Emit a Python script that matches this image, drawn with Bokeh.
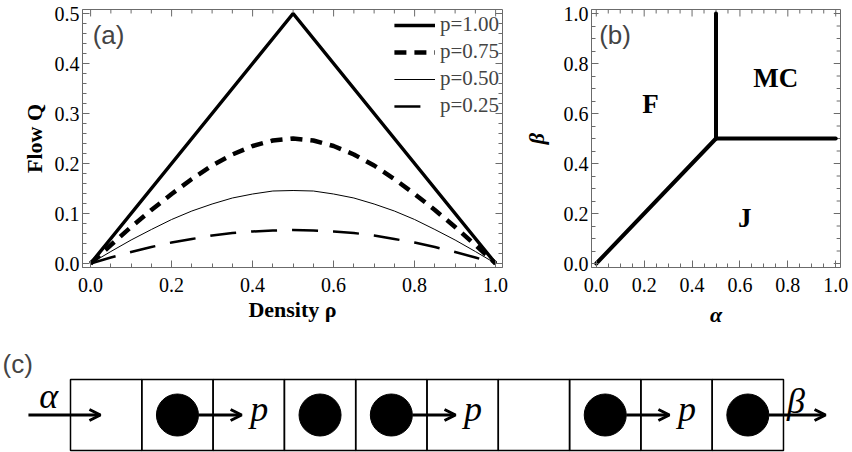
from bokeh.plotting import figure
from bokeh.models import (FixedTicker, Range1d, Legend, LegendItem, Label,
                          Arrow, OpenHead, ColumnDataSource, NumeralTickFormatter)
from bokeh.layouts import column, row
from bokeh.embed import file_html
from bokeh.resources import INLINE
from bokeh.core.properties import value

# ---------------- data: panel (a) ----------------
rho = [0.00, 0.05, 0.10, 0.15, 0.20, 0.25, 0.30, 0.35, 0.40, 0.45, 0.50,
       0.55, 0.60, 0.65, 0.70, 0.75, 0.80, 0.85, 0.90, 0.95, 1.00]
flow_p100 = [0.000, 0.050, 0.100, 0.150, 0.200, 0.250, 0.300, 0.350, 0.400, 0.450, 0.500,
             0.450, 0.400, 0.350, 0.300, 0.250, 0.200, 0.150, 0.100, 0.050, 0.000]
flow_p075 = [0.000, 0.037, 0.073, 0.107, 0.139, 0.169, 0.196, 0.218, 0.235, 0.246, 0.250,
             0.246, 0.235, 0.218, 0.196, 0.169, 0.139, 0.107, 0.073, 0.037, 0.000]
flow_p050 = [0.000, 0.024, 0.047, 0.068, 0.088, 0.105, 0.119, 0.131, 0.139, 0.145, 0.146,
             0.145, 0.139, 0.131, 0.119, 0.105, 0.088, 0.068, 0.047, 0.024, 0.000]
flow_p025 = [0.000, 0.012, 0.023, 0.033, 0.042, 0.049, 0.056, 0.061, 0.064, 0.066, 0.067,
             0.066, 0.064, 0.061, 0.056, 0.049, 0.042, 0.033, 0.023, 0.012, 0.000]
series_labels = ["p=1.00", "p=0.75", "p=0.50", "p=0.25"]

a_xticks = [0.0, 0.2, 0.4, 0.6, 0.8, 1.0]
a_xminor = [0.05, 0.1, 0.15, 0.25, 0.3, 0.35, 0.45, 0.5, 0.55, 0.65, 0.7, 0.75, 0.85, 0.9, 0.95]
a_yticks = [0.0, 0.1, 0.2, 0.3, 0.4, 0.5]
a_yminor = [0.02, 0.04, 0.06, 0.08, 0.12, 0.14, 0.16, 0.18, 0.22, 0.24, 0.26, 0.28,
            0.32, 0.34, 0.36, 0.38, 0.42, 0.44, 0.46, 0.48]

# ---------------- data: panel (b) ----------------
boundary_alpha = [[0.0, 0.5], [0.5, 0.5], [0.5, 1.0]]
boundary_beta = [[0.0, 0.5], [0.5, 1.0], [0.5, 0.5]]
phase_names = ["F", "MC", "J"]
phase_alpha = [0.226, 0.75, 0.62]
phase_beta = [0.64, 0.744, 0.184]
b_ticks = [0.0, 0.2, 0.4, 0.6, 0.8, 1.0]
b_minor = [0.05, 0.1, 0.15, 0.25, 0.3, 0.35, 0.45, 0.5, 0.55, 0.65, 0.7, 0.75, 0.85, 0.9, 0.95]

# ---------------- data: panel (c) ----------------
occupancy = [0, 1, 0, 1, 1, 0, 0, 1, 0, 1]

FRAME = "#6b6b6b"
SERIF = "Liberation Serif"
SANS = "Liberation Sans"
MAJ, MIN = 7, 4


def style_axis(ax, ticks, minor):
    ax.ticker = FixedTicker(ticks=ticks, minor_ticks=minor)
    ax.formatter = NumeralTickFormatter(format="0.0")
    ax.axis_line_color = FRAME
    ax.major_tick_line_color = FRAME
    ax.minor_tick_line_color = FRAME
    ax.major_tick_in = MAJ
    ax.major_tick_out = 0
    ax.minor_tick_in = MIN
    ax.minor_tick_out = 0
    ax.major_label_text_font = SERIF
    ax.major_label_text_color = "black"
    ax.major_label_text_font_size = "20px"


def mirror_ticks(p, xr, yr, fw, fh, xt, xm, yt, ym):
    """Inward ticks on the top and right frame edges (as in the Mathematica frame)."""
    dy = (yr[1] - yr[0]) / fh
    dx = (xr[1] - xr[0]) / fw
    x0, y0, x1, y1 = [], [], [], []
    for t, L in [(t, MAJ) for t in xt] + [(t, MIN) for t in xm]:
        x0.append(t); x1.append(t); y0.append(yr[1]); y1.append(yr[1] - L * dy)
    for t, L in [(t, MAJ) for t in yt] + [(t, MIN) for t in ym]:
        y0.append(t); y1.append(t); x0.append(xr[1]); x1.append(xr[1] - L * dx)
    p.segment(x0, y0, x1, y1, line_color=FRAME, line_width=1)


TOP_H = 335

# ---------------- panel (a) ----------------
A_W, A_L, A_R, A_T, A_B = 520, 82, 18, 9, 67
a_xr, a_yr = (-0.02, 1.017), (-0.008, 0.508)
pa = figure(width=A_W, height=TOP_H, x_range=Range1d(*a_xr), y_range=Range1d(*a_yr),
            output_backend="svg", toolbar_location=None,
            min_border_left=A_L, min_border_right=A_R, min_border_top=A_T, min_border_bottom=A_B)
pa.grid.visible = False
pa.outline_line_color = FRAME
style_axis(pa.xaxis[0], a_xticks, a_xminor)
style_axis(pa.yaxis[0], a_yticks, a_yminor)
pa.xaxis[0].major_label_standoff = 10
pa.yaxis[0].major_label_standoff = 3
pa.xaxis[0].axis_label = "Density ρ"
pa.yaxis[0].axis_label = "Flow Q"
for ax in (pa.xaxis[0], pa.yaxis[0]):
    ax.axis_label_text_font = SERIF
    ax.axis_label_text_font_style = "bold"
    ax.axis_label_text_font_size = "22px"
    ax.axis_label_text_color = "black"
pa.xaxis[0].axis_label_standoff = 2
pa.yaxis[0].axis_label_standoff = 5
mirror_ticks(pa, a_xr, a_yr, A_W - A_L - A_R, TOP_H - A_T - A_B, a_xticks, a_xminor, a_yticks, a_yminor)

r1 = pa.line(rho, flow_p100, line_width=3.5, line_color="black")
r2 = pa.line(rho, flow_p075, line_width=4.5, line_color="black", line_dash="12 8")
r3 = pa.line(rho, flow_p050, line_width=1, line_color="black")
r4 = pa.line(rho, flow_p025, line_width=2.5, line_color="black", line_dash="26 15")

legend = Legend(items=[LegendItem(label=series_labels[i], renderers=[r])
                       for i, r in enumerate([r1, r2, r3, r4])],
                location="top_right", border_line_color=None, background_fill_alpha=0,
                label_text_font=SERIF, label_text_font_size="21px",
                glyph_width=41, glyph_height=22, label_height=22, spacing=2,
                padding=0, margin=3, label_standoff=5)
pa.add_layout(legend)
pa.add_layout(Label(x=0.005, y=0.458, text="(a)", text_font=SANS, text_font_size="26px",
                    text_baseline="middle", text_align="left"))

# ---------------- panel (b) ----------------
B_W, B_L, B_R, B_T, B_B = 332, 62, 12, 9, 68
b_xr, b_yr = (-0.02, 1.02), (-0.016, 1.016)
pb = figure(width=B_W, height=TOP_H, x_range=Range1d(*b_xr), y_range=Range1d(*b_yr),
            output_backend="svg", toolbar_location=None,
            min_border_left=B_L, min_border_right=B_R, min_border_top=B_T, min_border_bottom=B_B)
pb.grid.visible = False
pb.outline_line_color = FRAME
style_axis(pb.xaxis[0], b_ticks, b_minor)
style_axis(pb.yaxis[0], b_ticks, b_minor)
pb.xaxis[0].major_label_standoff = 10
pb.yaxis[0].major_label_standoff = 3
pb.xaxis[0].axis_label = "α"
pb.yaxis[0].axis_label = "β"
for ax in (pb.xaxis[0], pb.yaxis[0]):
    ax.axis_label_text_font = SERIF
    ax.axis_label_text_font_style = "bold italic"
    ax.axis_label_text_font_size = "22px"
    ax.axis_label_text_color = "black"
pb.xaxis[0].axis_label_standoff = 7
pb.yaxis[0].axis_label_standoff = 12
mirror_ticks(pb, b_xr, b_yr, B_W - B_L - B_R, TOP_H - B_T - B_B, b_ticks, b_minor, b_ticks, b_minor)

pb.multi_line(boundary_alpha, boundary_beta, line_width=4, line_color="black",
              line_cap="round", line_join="round")
pb.text(phase_alpha, phase_beta, text=phase_names, text_font=value(SERIF),
        text_font_style="bold", text_font_size="27px", text_align="center",
        text_baseline="middle", text_color="black")
pb.add_layout(Label(x=0.012, y=0.916, text="(b)", text_font=SANS, text_font_size="26px",
                    text_baseline="middle", text_align="left"))

# ---------------- panel (c) ----------------
C_H = 452 - TOP_H
pc = figure(width=A_W + B_W, height=C_H, x_range=Range1d(-0.9818, 10.968), y_range=Range1d(-0.028, 1.62),
            output_backend="svg", toolbar_location=None,
            x_axis_location=None, y_axis_location=None, min_border=0)
pc.grid.visible = False
pc.outline_line_color = None

n = len(occupancy)
cells = ColumnDataSource(dict(left=list(range(n)), right=[i + 1 for i in range(n)],
                              bottom=[0] * n, top=[1] * n))
pc.quad(left="left", right="right", bottom="bottom", top="top", source=cells,
        fill_color=None, line_color="black", line_width=1.5)

R = 0.295  # particle radius in cell units
arr = dict(x0=[], x1=[], y0=[], y1=[])
p_x = []
for i in range(n - 1):
    if occupancy[i] == 1 and occupancy[i + 1] == 0:
        arr["x0"].append(i + 0.5 + R)
        arr["x1"].append(i + 1.4)
        arr["y0"].append(0.5)
        arr["y1"].append(0.5)
        p_x.append(i + 1.52)
if occupancy[0] == 0:
    arr["x0"].append(-0.59)
    arr["x1"].append(0.42)
    arr["y0"].append(0.5)
    arr["y1"].append(0.5)
if occupancy[-1] == 1:
    arr["x0"].append(n - 0.5 + R)
    arr["x1"].append(n + 0.59)
    arr["y0"].append(0.5)
    arr["y1"].append(0.5)

pc.add_layout(Arrow(end=OpenHead(size=11, line_width=3, line_color="black"),
                    x_start="x0", y_start="y0", x_end="x1", y_end="y1",
                    line_width=3, line_color="black", source=ColumnDataSource(arr)))

occ_x = [i + 0.5 for i in range(n) if occupancy[i] == 1]
pc.scatter(occ_x, [0.5] * len(occ_x), size=42, marker="circle",
           fill_color="black", line_color="black")

pc.text(p_x, [0.59] * len(p_x), text=["p"] * len(p_x), text_font=value(SERIF),
        text_font_style="italic", text_font_size="36px", text_baseline="alphabetic",
        text_align="left", text_color="black")
pc.text([-0.44], [0.77], text=["α"], text_font=value(SERIF), text_font_style="italic",
        text_font_size="36px", text_baseline="alphabetic", text_align="left", text_color="black")
pc.text([n + 0.05], [0.70], text=["β"], text_font=value(SERIF), text_font_style="italic",
        text_font_size="36px", text_baseline="alphabetic", text_align="left", text_color="black")
pc.add_layout(Label(x=-0.954, y=1.212, text="(c)", text_font=SANS, text_font_size="26px",
                    text_baseline="middle", text_align="left"))

layout = column(row(pa, pb), pc)
with open("out.html", "w") as f:
    f.write(file_html(layout, INLINE))
